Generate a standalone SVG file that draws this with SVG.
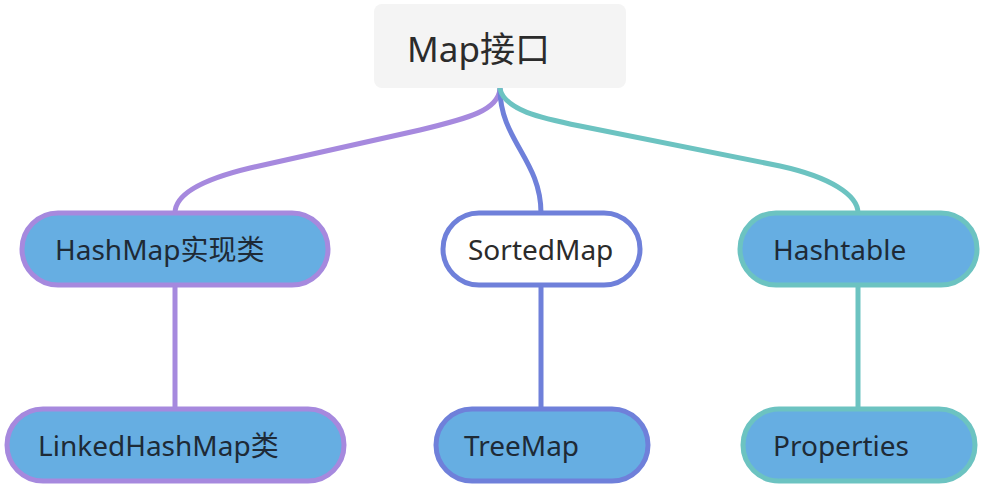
<svg xmlns="http://www.w3.org/2000/svg" width="984" height="486" viewBox="0 0 984 486">
<style>
.t{font-family:"Noto Sans","Noto Sans CJK SC",sans-serif;font-size:28px;fill:#1e2a36}
.n{stroke-width:5}
.c{fill:none;stroke-width:5;stroke-linecap:round}
.p{stroke:#a689de}
.b{stroke:#6f80da}
.g{stroke:#6cc3c1}
.f{fill:#66aee2}
</style>
<rect width="984" height="486" fill="#ffffff"/>
<g id="connectors">
<path class="c p" d="M 500 89 C 498 110 470 118 420 130 L 250 168 C 200 180 175 195 175 213"/>
<path class="c b" d="M 500 89 C 500 140 541 160 541 213"/>
<path class="c g" d="M 500 89 C 505 110 540 118 580 126 L 780 166 C 830 177 858 195 858 213"/>
<line class="c p" x1="175" y1="285" x2="175" y2="409"/>
<line class="c b" x1="541" y1="285" x2="541" y2="409"/>
<line class="c g" x1="858" y1="285" x2="858" y2="409"/>
</g>
<g id="root">
<rect x="374" y="4" width="252" height="84" rx="8" fill="#f4f4f4"/>
<text class="t" x="407" y="62" style="font-size:35px;fill:#2b2b2b">Map接口</text>
</g>
<g id="hashmap">
<rect class="n p f" x="22" y="213" width="306" height="72" rx="36"/>
<text class="t" x="55" y="260">HashMap实现类</text>
</g>
<g id="sortedmap">
<rect class="n b" x="443" y="213" width="197" height="72" rx="36" fill="#ffffff"/>
<text class="t" x="468" y="260" style="fill:#2b2b2b">SortedMap</text>
</g>
<g id="hashtable">
<rect class="n g f" x="740" y="213" width="237" height="72" rx="36"/>
<text class="t" x="773" y="260">Hashtable</text>
</g>
<g id="linkedhashmap">
<rect class="n p f" x="7" y="409" width="337" height="72" rx="36"/>
<text class="t" x="38" y="456">LinkedHashMap类</text>
</g>
<g id="treemap">
<rect class="n b f" x="436" y="409" width="212" height="72" rx="36"/>
<text class="t" x="464" y="456">TreeMap</text>
</g>
<g id="properties">
<rect class="n g f" x="743" y="409" width="232" height="72" rx="36"/>
<text class="t" x="773" y="456">Properties</text>
</g>
</svg>
